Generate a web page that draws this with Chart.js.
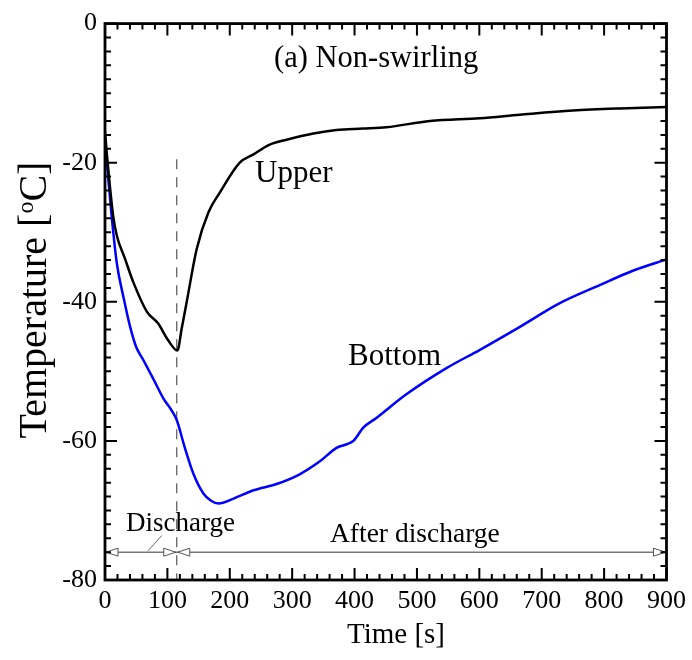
<!DOCTYPE html>
<html>
<head>
<meta charset="utf-8">
<script src="https://cdn.jsdelivr.net/npm/chart.js@4"></script>
<style>
    html, body { margin: 0; padding: 0; background: #fff; }
    #wrap { width: 692px; height: 660px; }
</style>
</head>
<body>
<div id="wrap"><canvas id="chart" width="692" height="660"></canvas></div>
<script>
// values
let upperTime = [0, 3, 8, 13, 19, 32, 45, 67, 85, 101, 116, 123, 131, 147, 166, 184, 216, 238, 264, 291, 334, 371, 414, 451, 521, 601, 665, 750, 825, 900];
let upperTemp = [-15.5, -18.8, -23.5, -27.6, -30.5, -33.8, -37.1, -41.4, -43.1, -45.5, -47.0, -43.8, -40.0, -32.4, -27.1, -24.3, -20.0, -18.8, -17.4, -16.7, -15.8, -15.3, -15.1, -14.9, -14.0, -13.6, -13.1, -12.5, -12.2, -12.0];

let bottomTime = [0, 3, 11, 19, 30, 40, 50, 61, 77, 93, 108, 115, 128, 142, 158, 170, 182, 206, 238, 275, 312, 345, 371, 398, 414, 435, 483, 548, 601, 665, 729, 793, 847, 900];
let bottomTemp = [-17.0, -20.0, -28.0, -34.5, -39.5, -43.5, -46.5, -48.3, -51.0, -53.8, -55.8, -57.0, -61.0, -64.8, -67.6, -68.6, -69.0, -68.3, -67.1, -66.2, -64.8, -62.9, -61.0, -60.0, -58.1, -56.7, -53.3, -49.5, -46.9, -43.6, -40.2, -37.6, -35.5, -33.9];

let xTicks = [0, 100, 200, 300, 400, 500, 600, 700, 800, 900];
let yTicks = [0, -20, -40, -60, -80];

let dischargeEnd = 115;   // s, dashed line
let arrowLevel = -76;     // degC, arrow line

const serif = "'Liberation Serif', 'Times New Roman', serif";

function pts(xs, ys) {
    return xs.map((x, i) => ({x: x, y: ys[i]}));
}

function tri(ctx, tipX, y, dir) {
    // open arrow head, dir = -1 points left, 1 points right
    ctx.beginPath();
    ctx.moveTo(tipX, y);
    ctx.lineTo(tipX - dir * 12, y - 4);
    ctx.lineTo(tipX - dir * 12, y + 4);
    ctx.closePath();
    ctx.fillStyle = "#fff";
    ctx.fill();
    ctx.stroke();
}

const decor = {
    id: "decor",
    beforeDatasetsDraw(chart) {
        let ctx = chart.ctx;
        let xs = chart.scales.x, ys = chart.scales.y;
        let a = chart.chartArea;
        ctx.save();

        // dashed line at the end of discharge
        let dx = xs.getPixelForValue(dischargeEnd);
        ctx.strokeStyle = "#555";
        ctx.lineWidth = 1.2;
        ctx.setLineDash([10, 8]);
        ctx.beginPath();
        ctx.moveTo(dx, ys.getPixelForValue(-19.5));
        ctx.lineTo(dx, a.bottom);
        ctx.stroke();
        ctx.setLineDash([]);

        // arrow line
        let ay = ys.getPixelForValue(arrowLevel);
        ctx.strokeStyle = "#777";
        ctx.lineWidth = 1.5;
        ctx.beginPath();
        ctx.moveTo(a.left, ay);
        ctx.lineTo(a.right, ay);
        ctx.stroke();
        ctx.lineWidth = 1;
        ctx.strokeStyle = "#555";
        tri(ctx, a.left + 1, ay, -1);
        tri(ctx, dx - 1, ay, 1);
        tri(ctx, dx + 1, ay, -1);
        tri(ctx, a.right - 1, ay, 1);

        // leader from "Discharge"
        ctx.strokeStyle = "#666";
        ctx.lineWidth = 1;
        ctx.beginPath();
        ctx.moveTo(xs.getPixelForValue(91), ys.getPixelForValue(-73.6));
        ctx.lineTo(xs.getPixelForValue(69), ys.getPixelForValue(-75.8));
        ctx.stroke();
        ctx.restore();
    },
    afterDatasetsDraw(chart) {
        let ctx = chart.ctx;
        let xs = chart.scales.x, ys = chart.scales.y;
        let a = chart.chartArea;
        ctx.save();

        // frame
        ctx.strokeStyle = "#000";
        ctx.lineWidth = 2.8;
        ctx.strokeRect(a.left, a.top, a.right - a.left, a.bottom - a.top);

        // inward ticks on all sides
        ctx.lineWidth = 2;
        ctx.beginPath();
        for (let t = 0; t <= 900; t += 20) {
            let px = xs.getPixelForValue(t);
            let len = t % 100 == 0 ? 12 : 6;
            ctx.moveTo(px, a.bottom); ctx.lineTo(px, a.bottom - len);
            ctx.moveTo(px, a.top); ctx.lineTo(px, a.top + len);
        }
        for (let v = -80; v <= 0; v += 2) {
            let py = ys.getPixelForValue(v);
            let len = v % 20 == 0 ? 12 : 6;
            ctx.moveTo(a.left, py); ctx.lineTo(a.left + len, py);
            ctx.moveTo(a.right, py); ctx.lineTo(a.right - len, py);
        }
        ctx.stroke();

        // labels
        ctx.fillStyle = "#000";
        ctx.textBaseline = "alphabetic";
        ctx.textAlign = "left";
        ctx.font = "30.5px " + serif;
        ctx.fillText("(a) Non-swirling", 274, 67);
        ctx.font = "31px " + serif;
        ctx.fillText("Upper", 255, 182);
        ctx.fillText("Bottom", 348, 365);
        ctx.font = "27px " + serif;
        ctx.fillText("Discharge", 126, 531);
        ctx.font = "27.5px " + serif;
        ctx.fillText("After discharge", 330, 542);

        // axis titles
        ctx.font = "29px " + serif;
        ctx.textAlign = "center";
        ctx.fillText("Time [s]", 396, 643);

        ctx.translate(46, 300);
        ctx.rotate(-Math.PI / 2);
        let big = "40px " + serif, small = "24px " + serif;
        ctx.font = big;
        let p1 = "Temperature [", p3 = "C]";
        let w1 = ctx.measureText(p1).width, w3 = ctx.measureText(p3).width;
        ctx.font = small;
        let w2 = ctx.measureText("o").width;
        let x0 = -(w1 + w2 + w3) / 2;
        ctx.textAlign = "left";
        ctx.font = big;
        ctx.fillText(p1, x0, 0);
        ctx.font = small;
        ctx.fillText("o", x0 + w1, -13);
        ctx.font = big;
        ctx.fillText(p3, x0 + w1 + w2, 0);
        ctx.restore();
    }
};

new Chart("chart", {
    type: "line",
    data: {
        datasets: [
            {
                label: "Upper",
                data: pts(upperTime, upperTemp),
                borderColor: "#000",
                borderWidth: 2.5,
                pointRadius: 0,
                fill: false,
                cubicInterpolationMode: "monotone"
            },
            {
                label: "Bottom",
                data: pts(bottomTime, bottomTemp),
                borderColor: "#0000ff",
                borderWidth: 2.5,
                pointRadius: 0,
                fill: false,
                cubicInterpolationMode: "monotone"
            }
        ]
    },
    options: {
        responsive: false,
        animation: false,
        layout: {padding: {left: 0, top: 20, right: 25, bottom: 0}},
        plugins: {
            legend: {display: false},
            tooltip: {enabled: false}
        },
        scales: {
            x: {
                type: "linear",
                min: 0,
                max: 900,
                afterBuildTicks: s => { s.ticks = xTicks.map(v => ({value: v})); },
                afterFit: s => { s.height = 80; },
                grid: {display: false, drawTicks: false},
                border: {display: false},
                ticks: {
                    padding: 6,
                    color: "#000",
                    font: {family: serif, size: 26},
                    maxRotation: 0
                }
            },
            y: {
                type: "linear",
                min: -80,
                max: 0,
                afterBuildTicks: s => { s.ticks = yTicks.map(v => ({value: v})); },
                afterFit: s => { s.width = 105; },
                grid: {display: false, drawTicks: false},
                border: {display: false},
                ticks: {
                    padding: 8,
                    color: "#000",
                    font: {family: serif, size: 26},
                    callback: v => String(v)
                }
            }
        }
    },
    plugins: [decor]
});
</script>
</body>
</html>
